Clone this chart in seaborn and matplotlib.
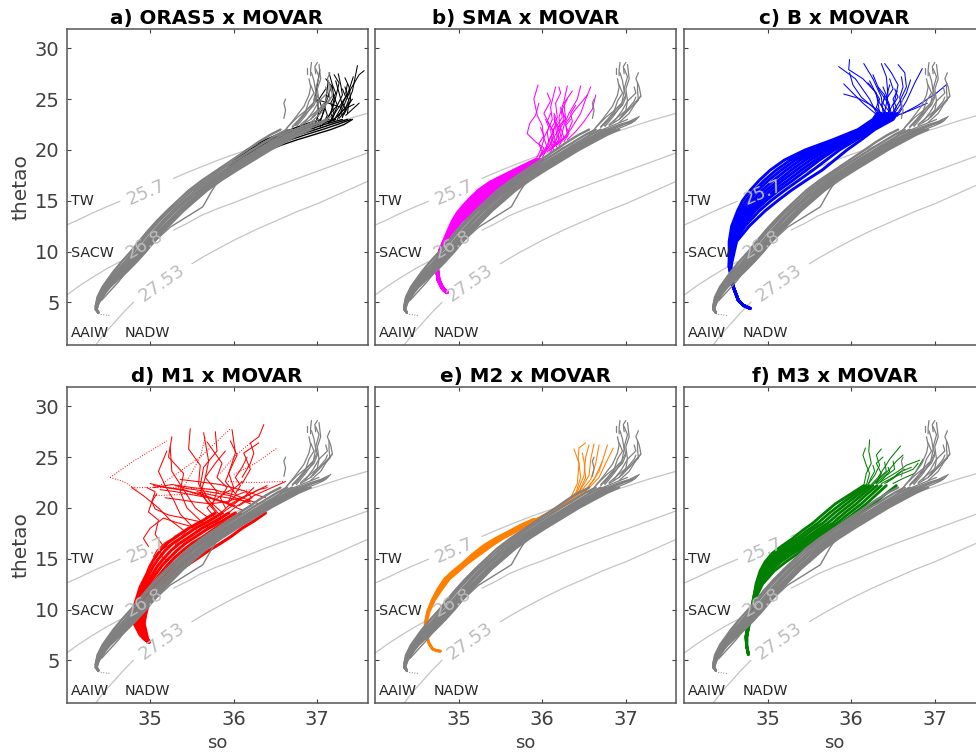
# T-S diagrams: each reanalysis/model against the MOVAR profiles

import pandas as pd
import matplotlib
matplotlib.use("Agg")
import matplotlib.pyplot as plt
import seaborn as sns

titles = ["a) ORAS5 x MOVAR", "b) SMA x MOVAR", "c) B x MOVAR",
          "d) M1 x MOVAR", "e) M2 x MOVAR", "f) M3 x MOVAR"]

# isopycnals, gaps left where the contour labels sit
iso_so = [[34.0, 34.15, 34.3, 34.48, 34.64], [35.28, 35.45, 35.6, 35.8, 36.0, 36.25, 36.5, 36.75, 37.0, 37.3, 37.6],
          [34.0, 34.15, 34.3, 34.48, 34.64], [35.28, 35.45, 35.6, 35.8, 36.0, 36.2, 36.4, 36.6, 36.8, 37.0, 37.2, 37.4, 37.6],
          [34.35, 34.45, 34.55, 34.68, 34.8], [35.5, 35.62, 35.75, 36.0, 36.25, 36.5, 36.75, 37.0, 37.3, 37.6]]
iso_thetao = [[12.6, 13.15, 13.75, 14.4, 14.95], [17.2, 17.8, 18.3, 18.95, 19.55, 20.25, 20.9, 21.5, 22.1, 22.9, 23.6],
              [5.7, 6.6, 7.4, 8.3, 9.0], [12.1, 12.8, 13.5, 14.2, 14.8, 15.45, 16.1, 16.7, 17.3, 17.9, 18.5, 19.1, 19.7],
              [0.8, 1.9, 2.8, 4.0, 5.0], [8.8, 9.4, 10.0, 11.1, 12.1, 13.0, 13.9, 14.7, 15.8, 16.9]]
iso_labels = ["25.7", "26.8", "27.53"]
iso_label_so = [34.95, 34.93, 35.14]
iso_label_thetao = [15.8, 10.7, 6.9]
water_masses = ["TW", "SACW", "AAIW", "NADW"]
water_so = [34.05, 34.05, 34.05, 34.7]
water_thetao = [15.0, 9.9, 1.95, 1.95]

# MOVAR profiles
movar_levels = [4.0, 4.3, 4.6, 5.0, 5.5, 6.0, 6.5, 7.2, 8.0, 9.0, 10.0, 11.0, 12.0, 13.0, 14.0, 15.0, 16.0, 17.0, 18.0, 19.0, 20.0, 20.8, 21.5, 22.0]
movar_so = [
    [34.38, 34.36, 34.36, 34.37, 34.40, 34.43, 34.46, 34.55, 34.64, 34.76, 34.87, 34.97, 35.07, 35.18, 35.30, 35.44, 35.58, 35.74, 35.93, 36.12, 36.32, 36.48, 36.64, 36.76],
    [34.38, 34.35, 34.35, 34.36, 34.38, 34.41, 34.44, 34.51, 34.59, 34.70, 34.80, 34.90, 35.00, 35.11, 35.23, 35.37, 35.50, 35.66, 35.84, 36.03, 36.22, 36.38, 36.52, 36.64],
    [34.38, 34.36, 34.37, 34.38, 34.42, 34.46, 34.50, 34.59, 34.69, 34.81, 34.92, 35.02, 35.13, 35.25, 35.37, 35.51, 35.65, 35.81, 36.00, 36.20, 36.40, 36.58, 36.74, 36.88],
    [34.38, 34.36, 34.35, 34.37, 34.39, 34.42, 34.45, 34.53, 34.62, 34.73, 34.84, 34.94, 35.04, 35.15, 35.27, 35.41, 35.54, 35.70, 35.89, 36.08, 36.28, 36.44, 36.58, 36.70],
    [34.38, 34.35, 34.36, 34.38, 34.41, 34.45, 34.48, 34.57, 34.67, 34.79, 34.90, 35.00, 35.10, 35.22, 35.34, 35.48, 35.62, 35.78, 35.97, 36.16, 36.36, 36.54, 36.70, 36.84],
    [34.38, 34.36, 34.35, 34.36, 34.37, 34.40, 34.43, 34.49, 34.56, 34.66, 34.77, 34.87, 34.97, 35.08, 35.20, 35.33, 35.46, 35.62, 35.80, 35.98, 36.16, 36.30, 36.44, 36.56],
    [34.38, 34.36, 34.37, 34.39, 34.43, 34.47, 34.52, 34.61, 34.72, 34.84, 34.95, 35.05, 35.16, 35.28, 35.40, 35.54, 35.68, 35.85, 36.04, 36.24, 36.44, 36.62, 36.78, 36.92],
    [34.38, 34.35, 34.36, 34.37, 34.40, 34.44, 34.47, 34.56, 34.66, 34.78, 34.89, 34.99, 35.11, 35.24, 35.36, 35.50, 35.60, 35.76, 35.95, 36.14, 36.34, 36.50, 36.66, 36.80],
]
movar_kink_so = [34.42, 34.62, 34.86, 35.08, 35.24, 35.63, 35.74, 35.82]
movar_kink_thetao = [5.2, 7.0, 9.5, 11.2, 12.4, 14.4, 16.0, 17.0]
movar_tail_so = [
    [36.60, 36.72, 36.84, 36.90, 36.92, 36.90], [36.75, 36.86, 36.95, 36.98, 36.96, 36.93],
    [36.85, 36.95, 37.02, 37.00, 37.04, 37.02], [36.92, 37.04, 37.18, 37.16, 37.12, 37.15],
    [36.95, 37.06, 37.15, 37.14, 37.14], [36.70, 36.84, 36.96, 37.00, 36.98, 37.02, 36.98],
    [36.80, 36.90, 37.02, 37.10, 37.12], [36.60, 36.62, 36.60, 36.62], [36.88, 36.88],
    [36.92, 36.92, 36.93], [36.98, 36.97, 37.00], [36.64, 36.80, 36.96, 37.12], [36.76, 36.92, 37.04, 37.14],
    [36.70, 36.86, 37.00, 37.08], [36.84, 36.98, 37.10, 37.16], [36.88, 37.00, 37.08], [36.56, 36.72, 36.90, 37.02],
    [36.74, 36.82, 36.88, 36.95, 37.00], [36.70, 36.78, 36.86, 36.90, 36.96, 36.92], [36.92, 37.04, 37.10, 37.18],
    [36.80, 36.92, 37.00, 37.02, 37.12, 37.10], [36.64, 36.76, 36.88, 36.94],
]
movar_tail_thetao = [
    [21.8, 23.0, 24.3, 25.4, 26.2, 27.0], [22.3, 23.4, 24.5, 25.8, 26.8, 27.6],
    [22.7, 23.8, 24.8, 26.0, 27.0, 28.4], [23.0, 24.0, 25.3, 26.2, 27.0, 27.6],
    [23.2, 24.2, 24.9, 25.8, 26.6], [22.2, 23.4, 24.4, 25.2, 26.0, 27.2, 28.0],
    [22.5, 23.2, 24.0, 24.8, 25.2], [23.1, 23.9, 24.6, 25.0], [27.5, 28.1],
    [27.3, 27.9, 28.6], [27.5, 28.2, 28.6], [21.5, 22.0, 22.5, 23.0], [22.0, 22.5, 22.8, 23.2],
    [21.7, 22.2, 22.6, 22.8], [22.0, 22.5, 22.8, 23.3], [22.0, 22.4, 22.7], [21.5, 22.0, 22.6, 23.0],
    [22.4, 23.2, 24.0, 24.6, 25.4], [22.3, 23.0, 23.8, 24.8, 25.6, 26.4], [22.7, 23.6, 24.4, 25.3],
    [22.4, 23.0, 23.9, 24.8, 25.6, 26.2], [22.2, 23.2, 24.0, 24.5],
]
movar_foot_so = [34.38, 34.42, 34.47, 34.53]
movar_foot_thetao = [3.9, 3.8, 3.75, 3.7]

# a) ORAS5
oras5_levels = [18.0, 18.5, 19.0, 19.5, 20.0, 20.5, 21.0, 21.5, 22.0, 22.5, 23.0]
oras5_so = [
    [35.98, 36.06, 36.16, 36.28, 36.42, 36.58, 36.76, 36.96, 37.16, 37.32, 37.42],
    [35.96, 36.04, 36.12, 36.22, 36.35, 36.50, 36.68, 36.86, 37.06, 37.24, 37.40],
    [35.95, 36.02, 36.09, 36.18, 36.30, 36.44, 36.60, 36.78, 36.98, 37.16, 37.36],
    [35.94, 36.00, 36.07, 36.15, 36.26, 36.38, 36.54, 36.72, 36.90, 37.08, 37.30],
    [35.93, 35.99, 36.05, 36.12, 36.22, 36.34, 36.48, 36.64, 36.82, 37.00, 37.22],
    [35.92, 35.97, 36.03, 36.10, 36.18, 36.30, 36.43, 36.58, 36.76, 36.92, 37.14],
    [35.92, 35.96, 36.01, 36.08, 36.15, 36.26, 36.38, 36.52, 36.68, 36.84, 37.04],
]
oras5_tail_so = [
    [37.02, 37.08, 37.12, 37.18, 37.14], [37.10, 37.18, 37.22, 37.26, 37.20], [37.18, 37.24, 37.30, 37.28, 37.25],
    [37.30, 37.36, 37.42, 37.48], [37.24, 37.32, 37.40, 37.50, 37.56], [37.14, 37.24, 37.36, 37.43],
    [37.00, 37.06, 37.10, 37.13], [37.08, 37.16, 37.20, 37.18, 37.10], [37.32, 37.40, 37.38, 37.33],
    [37.22, 37.32, 37.44], [37.20, 37.30, 37.26, 37.22], [36.96, 37.02, 36.98, 37.03],
    [37.28, 37.10, 36.96], [37.36, 37.38, 37.34, 37.36], [37.30, 37.28, 37.34, 37.30], [37.16, 37.20, 37.16, 37.22, 37.18],
    [37.06, 37.12, 37.08, 37.14], [37.34, 37.42, 37.50], [37.12, 37.26, 37.34, 37.42], [37.04, 37.00, 37.06, 37.02, 37.10],
    [37.20, 37.16, 37.24, 37.20], [37.26, 37.34, 37.30, 37.36, 37.33],
]
oras5_tail_thetao = [
    [22.5, 23.8, 25.2, 26.4, 27.6], [22.8, 24.0, 25.2, 26.6, 27.4], [23.0, 24.4, 25.4, 26.4, 27.5],
    [23.2, 24.6, 25.8, 28.3], [23.0, 24.4, 26.0, 27.4, 27.8], [22.7, 24.0, 25.4, 27.2],
    [22.3, 23.4, 24.8, 26.8], [22.6, 23.6, 25.0, 26.2, 27.0], [23.5, 24.8, 26.2, 27.1],
    [23.2, 24.0, 24.5], [22.9, 24.4, 25.6, 26.8], [22.1, 23.8, 25.4, 27.9],
    [24.2, 24.7, 25.0], [23.6, 24.8, 25.6, 26.5], [23.2, 24.2, 25.2, 26.0], [22.8, 23.8, 24.6, 25.6, 26.4],
    [22.4, 23.4, 24.4, 25.4], [23.4, 24.0, 24.6], [22.6, 23.4, 24.2, 25.0], [22.3, 23.2, 24.0, 25.0, 26.0],
    [22.8, 23.6, 24.4, 25.2], [23.1, 23.9, 24.7, 25.5, 26.2],
]

# b) SMA
sma_levels = [6.0, 6.2, 6.5, 7.2, 8.4, 10.1, 11.5, 13.0, 13.8, 14.5, 15.2, 16.0, 16.8, 17.5, 18.2, 19.0]
sma_so = [
    [34.86, 34.83, 34.80, 34.76, 34.74, 34.78, 34.85, 34.93, 34.99, 35.06, 35.14, 35.24, 35.38, 35.55, 35.72, 35.92],
    [34.86, 34.83, 34.80, 34.76, 34.74, 34.78, 34.86, 34.95, 35.02, 35.10, 35.19, 35.30, 35.44, 35.60, 35.76, 35.94],
    [34.86, 34.83, 34.80, 34.76, 34.74, 34.78, 34.87, 34.97, 35.05, 35.15, 35.25, 35.36, 35.50, 35.65, 35.80, 35.96],
    [34.86, 34.83, 34.80, 34.76, 34.74, 34.78, 34.87, 34.99, 35.09, 35.20, 35.31, 35.42, 35.56, 35.70, 35.84, 35.97],
    [34.86, 34.83, 34.80, 34.76, 34.74, 34.78, 34.88, 35.01, 35.12, 35.25, 35.37, 35.48, 35.61, 35.74, 35.87, 35.99],
    [34.86, 34.83, 34.80, 34.76, 34.74, 34.78, 34.88, 35.03, 35.16, 35.30, 35.42, 35.54, 35.66, 35.78, 35.90, 36.00],
]
sma_tail_so = [
    [35.92, 35.98, 36.02, 36.00, 35.94, 35.90, 35.95], [35.96, 36.02, 35.92, 35.82, 35.85, 35.92, 35.96],
    [36.00, 36.08, 36.06, 36.12, 36.10, 36.16], [36.02, 36.12, 36.10, 36.18, 36.16, 36.22, 36.20],
    [36.06, 36.16, 36.22, 36.20, 36.26, 36.30], [36.08, 36.20, 36.18, 36.28, 36.26, 36.36],
    [36.10, 36.22, 36.26, 36.32, 36.42, 36.46], [36.14, 36.26, 36.34, 36.46, 36.52, 36.58],
    [36.18, 36.30, 36.28, 36.38, 36.48, 36.54], [36.22, 36.30, 36.36, 36.34, 36.40],
    [36.04, 36.10, 36.14, 36.08, 36.02, 36.10, 36.06], [35.98, 36.04, 36.10, 36.16, 36.14],
    [36.12, 36.18, 36.16, 36.24, 36.22], [36.16, 36.22, 36.20, 36.26, 36.24, 36.30],
    [36.00, 36.06, 36.02, 36.08, 36.04], [36.10, 36.16, 36.12, 36.18, 36.14], [36.20, 36.26, 36.22, 36.28, 36.24],
    [36.26, 36.32, 36.28, 36.34], [35.96, 36.00, 35.96, 36.02, 35.98], [36.30, 36.40, 36.50, 36.60, 36.64],
    [36.14, 36.08, 36.14, 36.06, 36.10], [36.18, 36.12, 36.20, 36.14],
]
sma_tail_thetao = [
    [19.0, 20.0, 21.0, 22.4, 23.4, 25.0, 26.4], [19.2, 20.2, 20.8, 21.6, 22.6, 23.4, 24.6],
    [19.5, 20.6, 21.8, 23.0, 24.2, 26.2], [19.6, 20.8, 22.0, 23.2, 24.6, 25.6, 26.2],
    [19.8, 21.0, 22.0, 23.2, 24.8, 26.3], [19.9, 21.0, 22.2, 23.0, 24.6, 25.8],
    [20.0, 21.0, 22.4, 23.6, 25.0, 26.3], [20.3, 21.2, 22.0, 23.6, 25.0, 26.2],
    [20.5, 21.4, 22.6, 23.8, 24.8, 25.4], [20.8, 21.6, 22.8, 23.6, 24.4],
    [19.8, 20.6, 21.6, 22.6, 23.6, 24.8, 25.6], [19.4, 20.2, 21.2, 22.4, 23.4],
    [20.2, 21.2, 22.2, 23.2, 24.2], [20.4, 21.4, 22.2, 23.0, 24.0, 25.0],
    [19.2, 20.2, 21.2, 22.2, 23.0], [19.8, 20.8, 21.8, 22.8, 23.6], [20.4, 21.2, 22.2, 23.0, 23.8],
    [20.8, 21.6, 22.4, 23.0], [19.0, 19.8, 20.6, 21.4, 22.2], [21.0, 21.8, 22.8, 24.0, 25.4],
    [20.0, 21.0, 21.8, 22.8, 23.6], [20.2, 21.0, 22.0, 23.0],
]

# c) B
b_levels = [4.4, 4.7, 5.2, 6.5, 8.5, 11.0, 12.5, 14.0, 15.0, 16.0, 17.0, 18.0, 19.0, 20.0, 21.0, 22.0, 23.0, 23.6]
b_so = [
    [34.79, 34.71, 34.65, 34.59, 34.54, 34.54, 34.57, 34.64, 34.70, 34.79, 34.90, 35.03, 35.20, 35.45, 35.78, 36.08, 36.26, 36.31],
    [34.79, 34.71, 34.65, 34.59, 34.54, 34.55, 34.59, 34.67, 34.74, 34.84, 34.96, 35.10, 35.27, 35.50, 35.82, 36.10, 36.29, 36.34],
    [34.79, 34.71, 34.65, 34.59, 34.54, 34.56, 34.60, 34.70, 34.78, 34.88, 35.01, 35.16, 35.33, 35.55, 35.86, 36.12, 36.31, 36.36],
    [34.79, 34.71, 34.65, 34.59, 34.55, 34.56, 34.62, 34.73, 34.82, 34.93, 35.07, 35.22, 35.39, 35.60, 35.90, 36.14, 36.34, 36.39],
    [34.79, 34.71, 34.65, 34.59, 34.55, 34.57, 34.64, 34.76, 34.86, 34.98, 35.13, 35.28, 35.45, 35.65, 35.93, 36.16, 36.37, 36.42],
    [34.79, 34.71, 34.65, 34.59, 34.55, 34.58, 34.66, 34.79, 34.90, 35.03, 35.18, 35.34, 35.51, 35.70, 35.96, 36.18, 36.39, 36.44],
    [34.79, 34.71, 34.65, 34.59, 34.55, 34.59, 34.68, 34.82, 34.94, 35.08, 35.24, 35.40, 35.57, 35.75, 35.99, 36.20, 36.42, 36.47],
    [34.79, 34.71, 34.65, 34.59, 34.56, 34.60, 34.70, 34.85, 34.98, 35.13, 35.30, 35.46, 35.62, 35.80, 36.02, 36.22, 36.44, 36.49],
    [34.79, 34.71, 34.65, 34.59, 34.56, 34.61, 34.73, 34.90, 35.04, 35.20, 35.37, 35.54, 35.70, 35.86, 36.06, 36.25, 36.47, 36.52],
    [34.79, 34.71, 34.65, 34.59, 34.56, 34.63, 34.78, 34.97, 35.12, 35.28, 35.46, 35.65, 35.80, 35.95, 36.12, 36.28, 36.50, 36.55],
]
b_tail_so = [
    [36.31, 36.22, 36.05, 35.85], [36.34, 36.30, 36.14, 35.97, 35.98], [36.38, 36.36, 36.26, 36.15],
    [36.40, 36.44, 36.42, 36.36], [36.44, 36.52, 36.56, 36.48, 36.40], [36.48, 36.58, 36.66, 36.64, 36.56],
    [36.50, 36.58, 36.66, 36.71], [36.55, 36.66, 36.76, 36.85], [36.30, 36.14, 35.91], [36.36, 36.24, 36.08, 35.91],
    [36.46, 36.42, 36.50, 36.46], [36.52, 36.50, 36.56, 36.52], [36.55, 36.74, 36.91], [36.60, 36.80, 37.02, 37.15],
    [36.42, 36.34, 36.28, 36.20], [36.46, 36.38, 36.40, 36.32], [36.36, 36.30, 36.34, 36.28, 36.22], [36.40, 36.36, 36.42, 36.38],
    [36.44, 36.46, 36.42, 36.46], [36.50, 36.54, 36.50, 36.55], [36.34, 36.26, 36.12, 36.02, 35.98], [36.48, 36.44, 36.34, 36.26],
    [36.54, 36.60, 36.58, 36.62, 36.60],
]
b_tail_thetao = [
    [23.5, 25.0, 27.0, 28.2], [23.6, 25.6, 27.0, 27.9, 28.9], [23.7, 25.2, 27.0, 28.5],
    [23.7, 25.4, 27.2, 28.5], [23.6, 24.8, 26.4, 27.6, 28.5], [23.5, 24.8, 26.2, 27.6, 28.4],
    [23.4, 24.4, 25.6, 26.9], [23.3, 24.8, 26.6, 28.0], [23.5, 24.6, 26.5], [23.6, 24.4, 25.1, 25.5],
    [23.8, 25.0, 26.0, 27.0], [23.6, 24.4, 25.2, 26.0], [23.4, 24.0, 24.6], [23.5, 24.4, 25.6, 26.5],
    [23.6, 24.6, 25.8, 26.6], [23.7, 24.6, 25.4, 26.2], [23.6, 24.2, 25.0, 25.8, 26.8], [23.6, 24.4, 25.4, 26.2],
    [23.5, 24.4, 25.2, 26.4], [23.5, 24.2, 25.0, 25.8], [23.6, 24.2, 25.2, 26.4, 27.6], [23.6, 24.6, 25.8, 27.4],
    [23.4, 24.2, 25.2, 26.2, 27.2],
]

# d) M1
m1_levels = [6.8, 7.1, 7.5, 8.6, 10.6, 12.2, 13.5, 14.3, 15.0, 15.8, 16.5, 17.2, 18.0, 18.7, 19.5]
m1_so = [
    [34.98, 34.93, 34.88, 34.81, 34.82, 34.88, 34.96, 35.00, 35.05, 35.12, 35.20, 35.32, 35.46, 35.62, 35.78],
    [34.98, 34.93, 34.89, 34.83, 34.84, 34.90, 34.99, 35.04, 35.10, 35.18, 35.27, 35.40, 35.54, 35.70, 35.86],
    [34.98, 34.94, 34.90, 34.85, 34.86, 34.93, 35.03, 35.09, 35.16, 35.25, 35.35, 35.48, 35.62, 35.78, 35.94],
    [34.98, 34.95, 34.92, 34.87, 34.88, 34.96, 35.07, 35.14, 35.22, 35.32, 35.42, 35.55, 35.70, 35.86, 36.02],
    [34.99, 34.96, 34.93, 34.89, 34.91, 35.00, 35.12, 35.20, 35.28, 35.39, 35.50, 35.64, 35.78, 35.93, 36.08],
    [34.99, 34.96, 34.94, 34.91, 34.94, 35.04, 35.18, 35.27, 35.36, 35.48, 35.60, 35.74, 35.90, 36.05, 36.20],
    [34.99, 34.97, 34.95, 34.92, 34.98, 35.10, 35.30, 35.43, 35.56, 35.70, 35.84, 35.97, 36.10, 36.24, 36.38],
    [34.99, 34.97, 34.96, 34.93, 34.96, 35.07, 35.24, 35.35, 35.46, 35.59, 35.72, 35.86, 36.00, 36.15, 36.30],
]
m1_thin_so = [
    [35.86, 35.98, 36.10, 36.30, 36.40], [35.78, 35.92, 36.04, 36.24, 36.62],
    [35.94, 35.70, 35.50, 35.30, 35.12], [36.02, 35.80, 35.60, 35.34, 35.04],
    [36.10, 35.86, 35.62, 35.40, 35.20, 35.00], [36.20, 35.96, 35.70, 35.44, 35.30],
    [36.30, 36.04, 35.76, 35.50, 35.26, 35.04], [36.38, 36.12, 35.84, 35.56, 35.36],
    [35.70, 35.62, 35.40, 35.22, 35.06, 35.02, 35.08], [35.60, 35.48, 35.30, 35.16, 35.00, 34.92, 34.98],
    [35.90, 35.84, 35.92, 35.80, 35.86, 35.68], [35.86, 35.74, 35.80, 35.66, 35.70, 35.64],
    [35.78, 35.66, 35.58, 35.60, 35.46, 35.48], [35.94, 36.00, 35.94, 36.02, 35.98],
    [35.62, 35.44, 35.36, 35.40, 35.22, 35.26], [35.50, 35.36, 35.28, 35.18, 35.10, 35.20],
    [35.40, 35.24, 35.10, 34.92, 34.78], [35.16, 35.06, 35.10, 34.98, 35.02, 35.06, 34.96],
    [36.10, 36.20, 36.24, 36.20, 36.30, 36.36], [36.04, 35.90, 35.96, 36.04, 35.96],
    [35.76, 35.60, 35.66, 35.78, 35.90], [36.10, 36.20, 36.12, 36.30],
    [35.70, 35.54, 35.40, 35.26, 35.24], [35.88, 35.72, 35.60, 35.64, 35.80, 35.78],
    [35.24, 35.12, 35.14, 35.20], [35.32, 35.18, 35.08, 35.04], [35.46, 35.30, 35.18, 35.10],
    [35.62, 35.46, 35.38, 35.30], [35.78, 35.68, 35.78, 35.88, 36.02, 36.10], [35.86, 35.96, 36.14, 36.24],
    [35.94, 36.12, 36.30, 36.40], [36.20, 36.06, 35.92, 35.78, 35.66, 35.56], [35.92, 36.02, 36.14, 36.22, 36.06],
    [36.08, 35.90, 35.72, 35.52, 35.36, 35.18], [36.02, 36.08, 36.02, 36.10, 36.16],
]
m1_thin_thetao = [
    [19.5, 20.2, 21.0, 21.8, 22.0], [18.5, 19.4, 20.2, 21.2, 22.6],
    [20.5, 21.0, 21.3, 21.6, 21.8], [20.2, 20.8, 21.4, 21.8, 22.2],
    [19.8, 20.6, 21.2, 21.8, 22.0, 22.4], [20.4, 21.2, 21.6, 21.9, 22.2],
    [20.4, 21.2, 21.8, 22.0, 22.3, 22.0], [21.0, 21.7, 22.3, 22.6, 22.8],
    [18.0, 18.6, 19.0, 19.3, 19.9, 20.6, 21.4], [17.6, 18.2, 18.6, 19.0, 18.0, 17.0, 16.2],
    [20.0, 21.0, 22.0, 23.0, 24.4, 26.5], [19.0, 20.2, 21.6, 23.0, 24.6, 27.4],
    [19.6, 20.8, 22.4, 24.2, 25.8, 27.8], [20.6, 22.0, 23.4, 25.4, 27.7],
    [18.6, 20.0, 21.6, 23.4, 25.0, 27.0], [18.2, 19.4, 20.8, 22.2, 23.6, 25.6],
    [17.8, 18.8, 20.0, 21.2, 22.0], [16.2, 17.4, 18.8, 19.6, 20.6, 21.6, 22.0],
    [23.0, 24.4, 25.4, 26.4, 27.0, 28.2], [21.2, 22.6, 23.8, 25.2, 26.6],
    [20.0, 21.4, 23.0, 24.4, 25.6], [22.4, 23.8, 25.4, 26.4],
    [19.0, 20.0, 21.8, 23.6, 26.0], [19.4, 20.6, 22.2, 24.0, 25.6, 27.5],
    [16.4, 15.8, 15.2, 14.8], [17.2, 16.6, 15.8, 15.2], [18.0, 17.2, 16.2, 15.6],
    [18.6, 18.0, 17.2, 16.4], [19.0, 20.0, 20.8, 21.4, 22.0, 22.6], [19.6, 20.4, 21.2, 22.0],
    [20.2, 21.0, 21.8, 22.2], [20.6, 20.8, 21.0, 21.2, 21.4, 21.6], [20.4, 21.2, 21.6, 21.0, 20.2],
    [21.0, 20.6, 20.4, 20.6, 20.8, 21.0], [21.4, 22.2, 23.0, 24.0, 25.0],
]
m1_dot_so = [
    [34.52, 34.80, 35.20], [35.08, 35.60, 35.96], [36.00, 36.26, 36.52], [35.90, 36.26, 36.60],
    [34.78, 35.30, 35.80], [35.04, 35.60, 36.22], [34.52, 34.68, 34.84], [35.40, 35.60, 35.66], [35.84, 36.00, 36.20],
]
m1_dot_thetao = [
    [23.0, 24.6, 26.6], [22.0, 25.0, 27.8], [23.3, 24.4, 25.9], [22.6, 22.5, 22.6],
    [22.0, 22.0, 21.8], [21.2, 21.4, 21.8], [23.0, 22.6, 21.8], [22.0, 25.0, 27.0], [23.4, 25.0, 26.4],
]

# e) M2
m2_levels = [5.9, 5.95, 6.1, 6.6, 7.3, 8.6, 9.8, 10.9, 12.0, 13.0, 13.7, 14.5, 15.4, 16.3, 17.0, 17.6, 18.3, 18.9]
m2_so = [
    [34.78, 34.74, 34.69, 34.65, 34.62, 34.60, 34.63, 34.68, 34.75, 34.83, 34.92, 35.04, 35.16, 35.30, 35.44, 35.58, 35.74, 35.90],
    [34.78, 34.74, 34.69, 34.65, 34.62, 34.60, 34.63, 34.69, 34.76, 34.85, 34.95, 35.06, 35.19, 35.33, 35.47, 35.61, 35.77, 35.93],
    [34.78, 34.74, 34.69, 34.65, 34.62, 34.60, 34.64, 34.70, 34.78, 34.87, 34.97, 35.08, 35.22, 35.37, 35.50, 35.64, 35.80, 35.95],
    [34.78, 34.74, 34.69, 34.65, 34.62, 34.61, 34.65, 34.71, 34.80, 34.89, 34.99, 35.10, 35.25, 35.40, 35.53, 35.67, 35.82, 35.96],
]
m2_tail_so = [
    [35.93, 36.16, 36.34, 36.42, 36.44, 36.38], [35.94, 36.18, 36.40, 36.46, 36.43, 36.44, 36.52],
    [35.95, 36.20, 36.42, 36.50, 36.52, 36.56], [35.96, 36.22, 36.46, 36.56, 36.58, 36.62],
    [35.96, 36.20, 36.48, 36.58, 36.64, 36.68], [35.95, 36.24, 36.52, 36.62, 36.72, 36.78],
    [35.96, 36.26, 36.54, 36.68, 36.76, 36.85], [35.96, 36.20, 36.44, 36.52, 36.50, 36.48],
    [35.95, 36.18, 36.50, 36.60, 36.68, 36.72],
]
m2_tail_thetao = [
    [18.9, 20.0, 21.0, 22.4, 24.4, 25.8], [19.0, 20.0, 21.4, 23.0, 25.0, 25.9, 26.4],
    [19.0, 20.2, 21.6, 23.2, 25.0, 26.2], [19.0, 20.2, 21.8, 23.2, 24.8, 26.3],
    [19.0, 20.0, 21.8, 22.8, 24.4, 26.2], [19.0, 20.2, 21.8, 22.8, 24.6, 26.2],
    [19.0, 20.2, 21.8, 23.0, 24.4, 25.9], [18.9, 20.0, 21.6, 23.0, 24.6, 25.4],
    [18.9, 19.9, 21.4, 22.6, 23.6, 24.6],
]

# f) M3
m3_levels = [5.6, 6.4, 7.3, 8.8, 10.2, 11.5, 12.5, 13.8, 14.7, 15.5, 16.2, 17.0, 17.8, 18.5, 19.5, 20.4, 21.3, 22.2]
m3_so = [
    [34.77, 34.75, 34.74, 34.77, 34.81, 34.84, 34.86, 34.91, 34.97, 35.05, 35.16, 35.30, 35.42, 35.54, 35.68, 35.81, 35.98, 36.15],
    [34.77, 34.75, 34.74, 34.77, 34.81, 34.84, 34.87, 34.93, 35.00, 35.09, 35.21, 35.35, 35.48, 35.60, 35.74, 35.88, 36.03, 36.18],
    [34.77, 34.75, 34.74, 34.77, 34.82, 34.85, 34.88, 34.95, 35.03, 35.13, 35.26, 35.40, 35.53, 35.66, 35.80, 35.94, 36.08, 36.22],
    [34.77, 34.75, 34.75, 34.78, 34.82, 34.85, 34.89, 34.97, 35.06, 35.17, 35.31, 35.45, 35.59, 35.72, 35.86, 36.00, 36.13, 36.26],
    [34.77, 34.75, 34.75, 34.78, 34.82, 34.86, 34.90, 34.99, 35.09, 35.21, 35.35, 35.49, 35.64, 35.78, 35.92, 36.06, 36.18, 36.31],
    [34.77, 34.75, 34.75, 34.78, 34.82, 34.86, 34.91, 35.01, 35.12, 35.25, 35.39, 35.53, 35.68, 35.83, 35.98, 36.12, 36.24, 36.36],
    [34.77, 34.75, 34.75, 34.78, 34.82, 34.87, 34.92, 35.04, 35.16, 35.30, 35.44, 35.58, 35.73, 35.88, 36.04, 36.18, 36.30, 36.42],
    [34.77, 34.75, 34.75, 34.79, 34.82, 34.88, 34.94, 35.08, 35.22, 35.36, 35.49, 35.62, 35.78, 35.94, 36.12, 36.27, 36.40, 36.54],
]
m3_tail_so = [
    [36.15, 36.18, 36.24, 36.21, 36.22], [36.18, 36.22, 36.18, 36.14, 36.17], [36.20, 36.28, 36.34, 36.30, 36.36],
    [36.24, 36.32, 36.40, 36.46, 36.52, 36.59], [36.28, 36.38, 36.46, 36.54, 36.62], [36.32, 36.44, 36.56, 36.66, 36.82],
    [36.36, 36.50, 36.62, 36.74, 36.80], [36.30, 36.36, 36.30, 36.38], [36.26, 36.34, 36.42, 36.40],
    [36.42, 36.52, 36.60, 36.72], [36.34, 36.42, 36.52, 36.50], [36.50, 36.62, 36.76, 36.86],
    [36.20, 36.24, 36.28, 36.26], [36.30, 36.38, 36.46, 36.44], [36.40, 36.48, 36.56, 36.64],
]
m3_tail_thetao = [
    [22.2, 23.4, 24.4, 25.6, 26.7], [22.2, 23.4, 24.2, 25.2, 25.9], [22.3, 23.2, 24.2, 25.2, 25.8],
    [22.3, 23.0, 24.0, 24.8, 25.4, 26.1], [22.4, 23.2, 23.8, 24.6, 25.2], [22.4, 23.0, 23.6, 24.2, 24.7],
    [22.4, 23.0, 23.4, 23.8, 24.4], [22.4, 23.4, 24.4, 25.0], [22.3, 23.0, 23.6, 24.5],
    [22.5, 23.0, 23.6, 24.0], [22.5, 23.2, 23.8, 24.6], [22.4, 22.9, 23.4, 24.8],
    [22.3, 23.0, 23.6, 24.2], [22.4, 23.0, 23.6, 24.0], [22.4, 22.8, 23.4, 23.8],
]


def draw_curves(ax, so_curves, thetao_curves, color, lw, ls="-"):
    # long table so seaborn draws every profile on its own
    rows = []
    for i, (so, thetao) in enumerate(zip(so_curves, thetao_curves)):
        rows.append(pd.DataFrame({"so": so, "thetao": thetao, "curve": i}))
    df = pd.concat(rows, ignore_index=True)
    sns.lineplot(data=df, x="so", y="thetao", units="curve", estimator=None, sort=False,
                 color=color, lw=lw, ls=ls, legend=False, ax=ax)


sns.set_style("white")
fig = plt.figure(figsize=(9.76, 7.54), dpi=100)
W, H = 976.0, 754.0
lefts = [66.5, 375.0, 684.0]
tops = [29.0, 387.0]
axes = []
for t in tops:
    for l in lefts:
        axes.append(fig.add_axes([l / W, 1 - (t + 316) / H, 301 / W, 316 / H]))

grey = "#808080"
model_styles = [
    ("black", 1.0, oras5_so, oras5_levels, oras5_tail_so, oras5_tail_thetao),
    ("#ff00ff", 2.8, sma_so, sma_levels, sma_tail_so, sma_tail_thetao),
    ("#0000ff", 2.1, b_so, b_levels, b_tail_so, b_tail_thetao),
    ("#ff0000", 2.2, m1_so, m1_levels, m1_thin_so, m1_thin_thetao),
    ("#ff8000", 1.9, m2_so, m2_levels, m2_tail_so, m2_tail_thetao),
    ("#007f00", 2.0, m3_so, m3_levels, m3_tail_so, m3_tail_thetao),
]

for i, ax in enumerate(axes):
    color, body_lw, body_so, levels, tail_so, tail_thetao = model_styles[i]

    draw_curves(ax, iso_so, iso_thetao, "#c4c4c4", 0.9)
    for lab, x, y, rot in zip(iso_labels, iso_label_so, iso_label_thetao, [23, 30, 35]):
        ax.text(x, y, lab, color="#bcbcbc", fontsize=13, rotation=rot, ha="center", va="center")
    for lab, x, y in zip(water_masses, water_so, water_thetao):
        ax.text(x, y, lab, color="#262626", fontsize=10.3, va="center")

    draw_curves(ax, body_so, [levels] * len(body_so), color, body_lw)
    draw_curves(ax, tail_so, tail_thetao, color, 0.75)
    if i == 3:
        draw_curves(ax, m1_dot_so, m1_dot_thetao, color, 0.7, ls=":")

    # MOVAR always goes on top
    draw_curves(ax, movar_so, [movar_levels] * len(movar_so), grey, 1.7)
    draw_curves(ax, [movar_kink_so], [movar_kink_thetao], grey, 1.0)
    draw_curves(ax, movar_tail_so, movar_tail_thetao, grey, 0.9)
    draw_curves(ax, [movar_foot_so], [movar_foot_thetao], grey, 0.7, ls=":")

    ax.set_xlim(34, 37.6)
    ax.set_ylim(0.8, 31.9)
    ax.set_xticks([35, 36, 37])
    ax.set_yticks([5, 10, 15, 20, 25, 30])
    ax.tick_params(direction="in", top=True, right=True, left=True, bottom=True, length=3,
                   width=0.8, color="#404040", labelsize=14, labelcolor="#404040",
                   labelleft=i % 3 == 0, labelbottom=i >= 3, pad=5)
    for s in ax.spines.values():
        s.set_color("#555555")
        s.set_linewidth(1.1)
    ax.set_title(titles[i], fontsize=14.3, fontweight="bold", pad=3.5, color="#000000")
    ax.set_xlabel("so" if i >= 3 else "", fontsize=13, color="#404040", labelpad=3.5)
    ax.set_ylabel("thetao" if i % 3 == 0 else "", fontsize=14.5, color="#404040", labelpad=3)

fig.savefig("out.png", dpi=100)
